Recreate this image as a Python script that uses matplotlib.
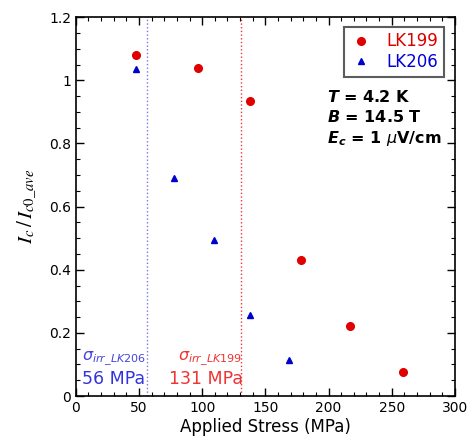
import numpy as np
import matplotlib.pyplot as plt
from matplotlib.ticker import MultipleLocator

plt.rcParams['font.family'] = ['DejaVu Sans']
plt.rcParams['mathtext.fontset'] = 'stix'

# データ
stress_lk199 = [48, 97, 138, 178, 217, 259]
ic_lk199 = [1.08, 1.038, 0.935, 0.43, 0.222, 0.075]
stress_lk206 = [48, 78, 109, 138, 169]
ic_lk206 = [1.035, 0.69, 0.495, 0.258, 0.113]
sigma_irr = {"LK206": 56, "LK199": 131}

fig = plt.figure(figsize=(4.68, 4.4), dpi=100, facecolor="white")
ax = fig.add_axes([0.162, 0.1, 0.81, 0.861])

ax.plot(stress_lk199, ic_lk199, "o", color="#e00000", ms=5.5, label="LK199", zorder=3)
ax.plot(stress_lk206, ic_lk206, "^", color="#0000cc", ms=5, label="LK206", zorder=3)

# 不可逆応力
ax.axvline(sigma_irr["LK206"], color="#7777ee", ls=":", lw=1)
ax.axvline(sigma_irr["LK199"], color="#ee3333", ls=":", lw=1)
ax.text(sigma_irr["LK206"] - 0.5, 0.09, r"$\sigma_{irr\_LK206}$", color="#4444dd",
        ha="right", va="bottom", fontsize=11.5, math_fontfamily="custom")
ax.text(sigma_irr["LK206"] - 1, 0.026, "%d MPa" % sigma_irr["LK206"], color="#3333dd",
        ha="right", va="bottom", fontsize=12.5)
ax.text(sigma_irr["LK199"] + 0.5, 0.09, r"$\sigma_{irr\_LK199}$", color="#ee3333",
        ha="right", va="bottom", fontsize=11.5, math_fontfamily="custom")
ax.text(sigma_irr["LK199"] + 1, 0.026, "%d MPa" % sigma_irr["LK199"], color="#ee3333",
        ha="right", va="bottom", fontsize=12.5)

# 軸
ax.set_xlim(0, 300)
ax.set_ylim(0, 1.2)
ax.xaxis.set_major_locator(MultipleLocator(50))
ax.xaxis.set_minor_locator(MultipleLocator(10))
ax.yaxis.set_minor_locator(MultipleLocator(0.05))
ax.set_yticks([0, 0.2, 0.4, 0.6, 0.8, 1.0, 1.2])
ax.set_yticklabels(["0", "0.2", "0.4", "0.6", "0.8", "1", "1.2"])
ax.tick_params(which="both", direction="in", top=True, right=True, labelsize=10)
ax.tick_params(which="major", length=6, width=1)
ax.tick_params(which="minor", length=3, width=0.8)
for s in ax.spines.values():
    s.set_linewidth(1.2)

ax.set_xlabel("Applied Stress (MPa)", fontsize=12, labelpad=2)
ax.set_ylabel(r"$I_c\,/\,I_{c0\_ave}$", fontsize=15, labelpad=8)

leg = ax.legend(loc="upper right", bbox_to_anchor=(0.972, 0.975), fontsize=12,
                fancybox=False, edgecolor="#333333", handletextpad=0.9,
                borderpad=0.35, labelspacing=0.15, handlelength=1.3, borderaxespad=0)
leg.get_frame().set_linewidth(1.5)
for t, c in zip(leg.get_texts(), ["#dd0000", "#0000dd"]):
    t.set_color(c)

cond = r"$\mathbfit{T}$ = 4.2 K" + "\n" + r"$\mathbfit{B}$ = 14.5 T" + "\n" + \
       r"$\mathbfit{E}_{\mathbfit{c}}$ = 1 $\mu$V/cm"
ax.text(0.662, 0.81, cond, transform=ax.transAxes, fontsize=11.5,
        fontweight="bold", va="top", ha="left", linespacing=1.3,
        math_fontfamily="custom")

fig.savefig("out.png")
